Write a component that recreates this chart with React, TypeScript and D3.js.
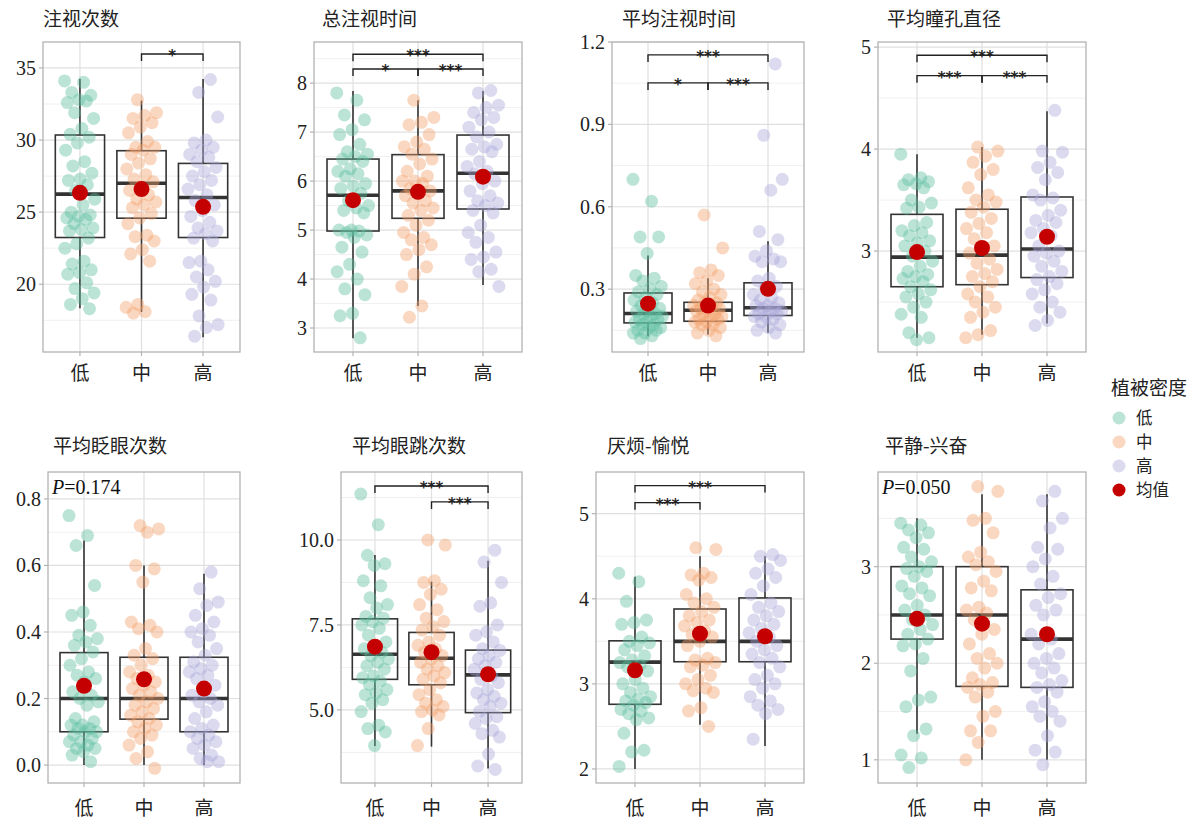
import React from "react";
import * as d3 from "d3";

const groups = ["低", "中", "高"];
const groupColors = ["#5cbf9f", "#f2a06a", "#aaa8d8"];
const meanColor = "#c40000";

// box stats per group: [q1, median, q3, whiskerLow, whiskerHigh, mean]
const fixCount = [
  [34.1, 34.0, 33.3, 33.1, 32.8, 32.6, 32.7, 31.9, 31.5, 30.8, 30.4, 30.2, 29.8, 29.3, 28.5, 28.2, 27.7, 27.3, 27.2, 26.9, 26.5, 25.9, 25.5, 25.0, 24.8, 24.7, 24.6, 24.5, 24.2, 23.9, 23.8, 23.7, 23.2, 22.8, 22.5, 21.6, 21.4, 21.0, 20.8, 20.7, 20.1, 19.7, 19.4, 19.0, 18.6, 18.3],
  [32.8, 31.9, 31.7, 31.5, 31.2, 30.9, 30.5, 29.9, 29.5, 29.5, 29.3, 29.0, 28.7, 28.4, 28.0, 27.6, 27.3, 27.1, 26.8, 26.5, 26.2, 25.9, 25.7, 25.5, 25.3, 24.9, 24.6, 24.2, 23.4, 23.3, 23.0, 22.4, 22.1, 21.6, 18.6, 18.4, 18.1, 18.0],
  [34.2, 33.3, 31.6, 30.0, 29.8, 29.5, 29.3, 29.0, 28.8, 28.5, 28.1, 27.8, 27.5, 27.2, 26.9, 26.6, 26.2, 25.8, 25.5, 25.1, 24.7, 24.3, 23.9, 23.7, 23.5, 23.2, 23.0, 21.6, 21.5, 21.0, 20.5, 20.2, 19.8, 19.3, 18.9, 17.8, 17.2, 17.0, 16.4],
];
const fixCountBox = [
  [23.24, 26.25, 30.35, 18.33, 34.24, 26.34],
  [24.58, 27.0, 29.26, 18.08, 32.73, 26.6],
  [23.24, 26.02, 28.38, 16.32, 34.24, 25.37],
];

const fixTotal = [
  [7.8, 7.65, 7.35, 7.25, 7.05, 6.95, 6.75, 6.6, 6.55, 6.5, 6.45, 6.4, 6.25, 6.2, 6.15, 6.1, 5.95, 5.9, 5.85, 5.75, 5.6, 5.5, 5.45, 5.4, 5.35, 5.0, 5.0, 4.98, 4.95, 4.9, 4.85, 4.65, 4.55, 4.3, 4.15, 4.0, 3.8, 3.68, 3.3, 3.25, 2.8],
  [7.65, 7.3, 7.2, 7.15, 6.95, 6.8, 6.7, 6.65, 6.55, 6.45, 6.35, 6.2, 6.1, 6.0, 6.0, 5.95, 5.85, 5.8, 5.75, 5.7, 5.6, 5.55, 5.45, 5.4, 5.3, 5.2, 5.1, 4.95, 4.85, 4.8, 4.7, 4.6, 4.5, 4.25, 4.1, 3.85, 3.45, 3.22],
  [7.85, 7.8, 7.55, 7.5, 7.4, 7.3, 7.25, 7.1, 7.0, 6.9, 6.75, 6.7, 6.65, 6.6, 6.4, 6.3, 6.2, 6.15, 6.0, 5.95, 5.8, 5.7, 5.6, 5.55, 5.5, 5.4, 5.35, 5.1, 4.95, 4.85, 4.75, 4.55, 4.45, 4.4, 4.2, 4.15, 3.85],
];
const fixTotalBox = [
  [4.98, 5.71, 6.45, 2.79, 7.84, 5.61],
  [5.24, 5.8, 6.54, 3.45, 7.65, 5.78],
  [5.43, 6.16, 6.94, 3.88, 7.84, 6.09],
];

const fixMean = [
  [0.7, 0.62, 0.49, 0.49, 0.43, 0.35, 0.34, 0.33, 0.31, 0.3, 0.29, 0.28, 0.27, 0.26, 0.25, 0.24, 0.23, 0.22, 0.22, 0.21, 0.21, 0.2, 0.2, 0.19, 0.19, 0.18, 0.18, 0.17, 0.17, 0.16, 0.16, 0.15, 0.15, 0.14, 0.14, 0.13, 0.12],
  [0.57, 0.45, 0.37, 0.36, 0.35, 0.33, 0.32, 0.3, 0.29, 0.28, 0.27, 0.26, 0.25, 0.25, 0.24, 0.24, 0.23, 0.23, 0.22, 0.22, 0.21, 0.21, 0.2, 0.2, 0.19, 0.19, 0.18, 0.18, 0.17, 0.17, 0.16, 0.15, 0.14, 0.13],
  [1.12, 0.86, 0.7, 0.66, 0.51, 0.48, 0.44, 0.42, 0.41, 0.4, 0.4, 0.34, 0.33, 0.31, 0.3, 0.28, 0.27, 0.26, 0.25, 0.24, 0.24, 0.23, 0.23, 0.22, 0.22, 0.21, 0.21, 0.2, 0.2, 0.19, 0.18, 0.17, 0.16, 0.15, 0.14],
];
const fixMeanBox = [
  [0.177, 0.211, 0.286, 0.128, 0.422, 0.247],
  [0.183, 0.223, 0.252, 0.135, 0.34, 0.24],
  [0.204, 0.232, 0.323, 0.141, 0.474, 0.301],
];

const pupil = [
  [3.95, 3.72, 3.7, 3.68, 3.66, 3.65, 3.62, 3.5, 3.47, 3.43, 3.42, 3.28, 3.25, 3.2, 3.18, 3.15, 3.1, 3.08, 3.05, 3.0, 2.95, 2.9, 2.85, 2.8, 2.77, 2.75, 2.73, 2.7, 2.65, 2.62, 2.58, 2.55, 2.5, 2.45, 2.38, 2.35, 2.2, 2.15, 2.13],
  [4.02, 3.98, 3.93, 3.87, 3.8, 3.75, 3.62, 3.55, 3.5, 3.48, 3.43, 3.38, 3.32, 3.27, 3.22, 3.18, 3.12, 3.05, 3.02, 2.98, 2.92, 2.88, 2.82, 2.78, 2.75, 2.7, 2.65, 2.58, 2.55, 2.5, 2.45, 2.4, 2.35, 2.22, 2.18, 2.15],
  [4.38, 3.98, 3.97, 3.87, 3.82, 3.77, 3.7, 3.55, 3.52, 3.5, 3.4, 3.35, 3.3, 3.28, 3.22, 3.18, 3.15, 3.05, 3.0, 2.98, 2.95, 2.9, 2.85, 2.8, 2.75, 2.72, 2.68, 2.62, 2.58, 2.5, 2.45, 2.4, 2.32, 2.27],
];
const pupilBox = [
  [2.65, 2.94, 3.36, 2.15, 3.95, 2.99],
  [2.67, 2.96, 3.41, 2.18, 4.02, 3.03],
  [2.74, 3.02, 3.53, 2.29, 4.37, 3.14],
];

const blink = [
  [0.75, 0.69, 0.66, 0.54, 0.46, 0.45, 0.42, 0.39, 0.38, 0.37, 0.36, 0.34, 0.32, 0.3, 0.28, 0.27, 0.26, 0.25, 0.22, 0.21, 0.2, 0.19, 0.18, 0.14, 0.13, 0.12, 0.12, 0.11, 0.11, 0.1, 0.1, 0.09, 0.08, 0.07, 0.07, 0.06, 0.05, 0.05, 0.04, 0.03, 0.01],
  [0.72, 0.71, 0.7, 0.6, 0.59, 0.55, 0.43, 0.42, 0.41, 0.4, 0.35, 0.33, 0.32, 0.3, 0.28, 0.27, 0.26, 0.25, 0.24, 0.23, 0.22, 0.21, 0.2, 0.19, 0.18, 0.17, 0.16, 0.15, 0.14, 0.13, 0.12, 0.11, 0.1, 0.09, 0.08, 0.06, 0.04, 0.02, -0.01],
  [0.58, 0.53, 0.49, 0.48, 0.45, 0.43, 0.41, 0.4, 0.39, 0.37, 0.35, 0.33, 0.31, 0.3, 0.29, 0.28, 0.27, 0.26, 0.24, 0.22, 0.21, 0.2, 0.19, 0.18, 0.16, 0.14, 0.12, 0.11, 0.1, 0.09, 0.08, 0.07, 0.06, 0.05, 0.03, 0.02, 0.01, 0.01],
];
const blinkBox = [
  [0.1, 0.2, 0.338, 0.0, 0.675, 0.238],
  [0.138, 0.2, 0.324, 0.0, 0.6, 0.258],
  [0.1, 0.2, 0.324, 0.0, 0.575, 0.23],
];

const saccade = [
  [11.35, 10.45, 9.55, 9.3, 9.25, 8.8, 8.65, 8.3, 8.1, 8.0, 7.75, 7.7, 7.6, 7.5, 7.4, 7.2, 7.0, 6.9, 6.8, 6.7, 6.6, 6.5, 6.4, 6.3, 6.2, 6.0, 5.95, 5.85, 5.75, 5.6, 5.5, 5.45, 5.3, 5.2, 4.95, 4.55, 4.45, 4.35, 3.95],
  [10.0, 9.85, 8.8, 8.75, 8.55, 8.4, 8.1, 7.95, 7.7, 7.6, 7.45, 7.35, 7.2, 7.0, 6.9, 6.8, 6.7, 6.6, 6.5, 6.4, 6.3, 6.2, 6.1, 6.0, 5.9, 5.8, 5.6, 5.45, 5.3, 5.2, 5.1, 5.0, 4.95, 4.85, 4.45, 3.95],
  [9.7, 9.35, 8.75, 8.15, 8.05, 7.5, 7.3, 7.2, 7.0, 6.8, 6.75, 6.6, 6.5, 6.4, 6.3, 6.2, 6.0, 5.9, 5.8, 5.6, 5.5, 5.4, 5.3, 5.2, 5.1, 4.95, 4.8, 4.75, 4.6, 4.4, 4.3, 4.2, 3.7, 3.35, 3.25],
];
const saccadeBox = [
  [5.9, 6.64, 7.68, 3.94, 9.56, 6.86],
  [5.74, 6.52, 7.28, 3.92, 8.77, 6.7],
  [4.92, 6.03, 6.76, 3.28, 9.39, 6.05],
];

const pleasure = [
  [4.3, 4.2, 3.97, 3.75, 3.72, 3.7, 3.55, 3.5, 3.48, 3.45, 3.4, 3.33, 3.28, 3.25, 3.22, 3.2, 3.15, 3.05, 3.0, 2.95, 2.9, 2.85, 2.82, 2.8, 2.78, 2.75, 2.7, 2.68, 2.65, 2.6, 2.58, 2.42, 2.22, 2.2, 2.03],
  [4.6, 4.58, 4.3, 4.28, 4.25, 4.22, 4.05, 4.0, 3.95, 3.9, 3.85, 3.8, 3.75, 3.72, 3.68, 3.62, 3.58, 3.55, 3.5, 3.45, 3.3, 3.28, 3.25, 3.22, 3.2, 3.1, 3.05, 3.0, 2.95, 2.92, 2.9, 2.72, 2.68, 2.5],
  [4.52, 4.5, 4.45, 4.35, 4.3, 4.25, 4.15, 4.05, 3.95, 3.9, 3.85, 3.8, 3.75, 3.7, 3.65, 3.6, 3.55, 3.5, 3.45, 3.4, 3.35, 3.3, 3.25, 3.2, 3.1, 3.05, 3.0, 2.95, 2.85, 2.8, 2.75, 2.7, 2.65, 2.35],
];
const pleasureBox = [
  [2.76, 3.255, 3.506, 2.0, 4.26, 3.16],
  [3.26, 3.5, 3.88, 2.52, 4.5, 3.59],
  [3.26, 3.5, 4.01, 2.27, 4.5, 3.56],
];

const arousal = [
  [3.45, 3.43, 3.38, 3.35, 3.3, 3.2, 3.18, 3.1, 3.05, 3.0, 2.98, 2.95, 2.9, 2.8, 2.78, 2.72, 2.7, 2.6, 2.55, 2.5, 2.45, 2.4, 2.35, 2.3, 2.25, 2.2, 2.18, 2.05, 1.92, 1.65, 1.62, 1.55, 1.32, 1.25, 1.05, 1.02, 0.92],
  [3.83, 3.78, 3.5, 3.48, 3.35, 3.15, 3.1, 3.05, 3.02, 2.95, 2.85, 2.78, 2.75, 2.58, 2.55, 2.52, 2.45, 2.35, 2.3, 2.2, 2.1, 2.05, 2.0, 1.95, 1.85, 1.8, 1.78, 1.75, 1.7, 1.65, 1.5, 1.45, 1.3, 1.3, 1.18, 1.0],
  [3.78, 3.68, 3.5, 3.4, 3.2, 3.18, 3.08, 3.0, 2.9, 2.82, 2.72, 2.68, 2.6, 2.55, 2.5, 2.3, 2.25, 2.2, 2.1, 2.05, 2.0, 1.95, 1.9, 1.82, 1.78, 1.75, 1.7, 1.6, 1.55, 1.5, 1.45, 1.4, 1.25, 1.1, 1.08, 0.95],
];
const arousalBox = [
  [2.25, 2.5, 3.0, 1.27, 3.5, 2.46],
  [1.76, 2.5, 3.0, 1.0, 3.75, 2.41],
  [1.75, 2.25, 2.76, 1.0, 3.75, 2.3],
];

const panels = [
  { title: "注视次数", values: fixCount, box: fixCountBox, domain: [15.3, 36.8], ticks: [20, 25, 30, 35], fmt: "d", brackets: [[1, 2, 35.97, "*"]], p: null },
  { title: "总注视时间", values: fixTotal, box: fixTotalBox, domain: [2.51, 8.84], ticks: [3, 4, 5, 6, 7, 8], fmt: "d", brackets: [[0, 2, 8.59, "***"], [0, 1, 8.29, "*"], [1, 2, 8.29, "***"]], p: null },
  { title: "平均注视时间", values: fixMean, box: fixMeanBox, domain: [0.071, 1.2], ticks: [0.3, 0.6, 0.9, 1.2], fmt: ".1f", brackets: [[0, 2, 1.153, "***"], [0, 1, 1.051, "*"], [1, 2, 1.051, "***"]], p: null },
  { title: "平均瞳孔直径", values: pupil, box: pupilBox, domain: [2.01, 5.05], ticks: [3, 4, 5], fmt: "d", brackets: [[0, 2, 4.92, "***"], [0, 1, 4.72, "***"], [1, 2, 4.72, "***"]], p: null },
  { title: "平均眨眼次数", values: blink, box: blinkBox, domain: [-0.054, 0.881], ticks: [0, 0.2, 0.4, 0.6, 0.8], fmt: ".1f", brackets: [], p: "0.174" },
  { title: "平均眼跳次数", values: saccade, box: saccadeBox, domain: [2.85, 12.0], ticks: [5, 7.5, 10], fmt: ".1f", brackets: [[0, 2, 11.59, "***"], [1, 2, 11.12, "***"]], p: null },
  { title: "厌烦-愉悦", values: pleasure, box: pleasureBox, domain: [1.835, 5.49], ticks: [2, 3, 4, 5], fmt: "d", brackets: [[0, 2, 5.33, "***"], [0, 1, 5.13, "***"]], p: null },
  { title: "平静-兴奋", values: arousal, box: arousalBox, domain: [0.76, 3.98], ticks: [1, 2, 3], fmt: "d", brackets: [], p: "0.050" },
];

// [left, right, top, bottom, titleOffset]
const layout = [
  [43, 240, 42, 352, 0],
  [314, 522, 42, 352, 8],
  [612, 804, 42, 352, 10],
  [878, 1086, 42, 352, 9],
  [48, 240, 472, 783, 5],
  [341, 522, 472, 783, 11],
  [596, 804, 472, 783, 11],
  [878, 1086, 472, 783, 7],
];

const FONT = "Liberation Serif, Times New Roman, serif";
const CJK = "Noto Sans CJK SC, sans-serif";

function Panel({ spec, box }) {
  const [left, right, top, bottom, tOff] = box;
  const x = d3.scalePoint().domain(groups).range([left, right]).padding(0.6);
  const y = d3.scaleLinear().domain(spec.domain).range([bottom, top]);
  const step = x.step();
  const bw = step * 0.8;
  const fmt = d3.format(spec.fmt);
  const t = spec.ticks;
  const half = (t[1] - t[0]) / 2;
  const minor = [t[0] - half, ...t.map((v) => v + half)].filter(
    (v) => v > spec.domain[0] && v < spec.domain[1]
  );
  const firstRow = top < 100;

  return (
    <g>
      <text x={left + tOff} y={top - (firstRow ? 16 : 19)} fontFamily={CJK} fontSize={19} fill="#222">
        {spec.title}
      </text>
      <rect x={left} y={top} width={right - left} height={bottom - top} fill="#fff" />
      {minor.map((v) => (
        <line key={"mn" + v} x1={left} x2={right} y1={y(v)} y2={y(v)} stroke="#ececec" strokeWidth={0.8} />
      ))}
      {t.map((v) => (
        <line key={"mj" + v} x1={left} x2={right} y1={y(v)} y2={y(v)} stroke="#e0e0e0" strokeWidth={1.2} />
      ))}
      {groups.map((g) => (
        <line key={"vg" + g} x1={x(g)} x2={x(g)} y1={top} y2={bottom} stroke="#e0e0e0" strokeWidth={1.2} />
      ))}
      {spec.box.map((b, i) => {
        const cx = x(groups[i]);
        const [q1, med, q3, lo, hi] = b;
        return (
          <g key={"box" + i} stroke="#333" fill="none">
            <line x1={cx} x2={cx} y1={y(q3)} y2={y(hi)} strokeWidth={1.6} />
            <line x1={cx} x2={cx} y1={y(q1)} y2={y(lo)} strokeWidth={1.6} />
            <rect x={cx - bw / 2} y={y(q3)} width={bw} height={y(q1) - y(q3)} strokeWidth={1.6} />
            <line x1={cx - bw / 2} x2={cx + bw / 2} y1={y(med)} y2={y(med)} strokeWidth={3.6} />
          </g>
        );
      })}
      {spec.values.map((vals, gi) =>
        vals.map((v, i) => {
          const u = ((i * 0.6180339887 + gi * 0.37) % 1) - 0.5;
          return (
            <circle
              key={"pt" + gi + "_" + i}
              cx={x(groups[gi]) + u * 2 * step * 0.25}
              cy={y(v)}
              r={6.5}
              fill={groupColors[gi]}
              fillOpacity={0.42}
            />
          );
        })
      )}
      {spec.box.map((b, i) => (
        <circle key={"mean" + i} cx={x(groups[i])} cy={y(b[5])} r={8} fill={meanColor} />
      ))}
      {spec.brackets.map(([a, c, yv, lab], k) => {
        const x1 = x(groups[a]);
        const x2 = x(groups[c]);
        const yy = y(yv);
        return (
          <g key={"br" + k}>
            <path d={`M${x1},${yy + 7}V${yy}H${x2}V${yy + 7}`} fill="none" stroke="#222" strokeWidth={1.4} />
            <text x={(x1 + x2) / 2} y={yy + 7} textAnchor="middle" fontFamily="DejaVu Sans, sans-serif" fontWeight="bold" fontSize={15} fill="#222">
              {lab}
            </text>
          </g>
        );
      })}
      {spec.p && (
        <text x={left + 4} y={top + 22} fontFamily={FONT} fontSize={20} fill="#111">
          <tspan fontStyle="italic">P</tspan>={spec.p}
        </text>
      )}
      <rect x={left} y={top} width={right - left} height={bottom - top} fill="none" stroke="#b3b3b3" strokeWidth={1.3} />
      {t.map((v) => (
        <g key={"tk" + v}>
          <line x1={left - 4} x2={left} y1={y(v)} y2={y(v)} stroke="#b3b3b3" strokeWidth={1.2} />
          <text x={left - 7} y={y(v)} dy="0.35em" textAnchor="end" fontFamily={FONT} fontSize={20} fill="#222">
            {fmt(v)}
          </text>
        </g>
      ))}
      {groups.map((g) => (
        <g key={"xt" + g}>
          <line x1={x(g)} x2={x(g)} y1={bottom} y2={bottom + 4} stroke="#b3b3b3" strokeWidth={1.2} />
          <text x={x(g)} y={bottom + (firstRow ? 28 : 32)} textAnchor="middle" fontFamily={CJK} fontSize={19} fill="#222">
            {g}
          </text>
        </g>
      ))}
    </g>
  );
}

export default function App() {
  const legendItems = [
    ...groups.map((g, i) => ({ label: g, color: groupColors[i], op: 0.42 })),
    { label: "均值", color: meanColor, op: 1 },
  ];
  return (
    <svg width={1201} height={826} style={{ position: "absolute", left: 0, top: 0, background: "#fff" }}>
      {panels.map((p, i) => (
        <Panel key={p.title} spec={p} box={layout[i]} />
      ))}
      <text x={1111} y={395} fontFamily={CJK} fontSize={19} fill="#222">
        植被密度
      </text>
      {legendItems.map((it, i) => (
        <g key={it.label}>
          <circle cx={1119} cy={418 + i * 24} r={6.5} fill={it.color} fillOpacity={it.op} />
          <text x={1136} y={418 + i * 24} dy="0.36em" fontFamily={CJK} fontSize={16.5} fill="#222">
            {it.label}
          </text>
        </g>
      ))}
    </svg>
  );
}
